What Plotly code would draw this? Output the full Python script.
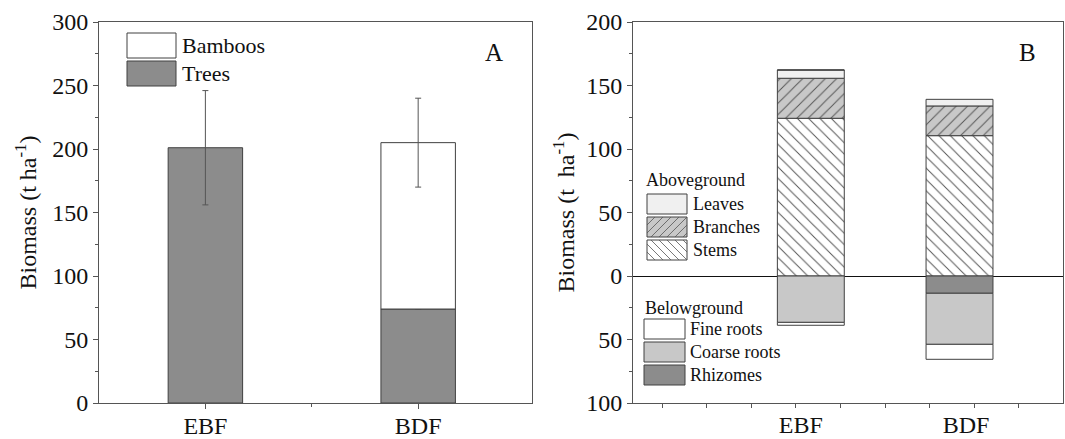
import plotly.graph_objects as go

# ---------------- data ----------------
categories = ["EBF", "BDF"]

# Panel A (t ha-1)
trees = [201, 74]
bamboos = [None, 131]
trees_err = [45, None]
bamboos_err = [None, 35]

# Panel B aboveground (t ha-1)
stems = [124.2, 110.5]
branches = [31.5, 23.4]
leaves = [6.5, 5.2]
# Panel B belowground (t ha-1, plotted downward)
rhizomes = [0, 13.6]
coarse_roots = [36.5, 40.2]
fine_roots = [2.3, 11.8]

yA_ticks = [0, 50, 100, 150, 200, 250, 300]
yB_tickvals = [-100, -50, 0, 50, 100, 150, 200]
yB_ticktext = ["100", "50", "0", "50", "100", "150", "200"]

# ---------------- style ----------------
FONT = "Liberation Serif"
TXT = "#111111"
EDGE = "#404040"
AX = "#555555"
HATCH = "#555555"
W, H = 1065, 439

C_TREES = "#8c8c8c"
C_BAMBOO = "white"
C_STEMS = "white"
C_BRANCH = "#c8c8c8"
C_LEAVES = "#f0f0f0"
C_RHIZ = "#8c8c8c"
C_COARSE = "#c8c8c8"
C_FINE = "white"

idx = list(range(len(categories)))
neg = lambda v: [-x for x in v]


def pat(shape, bg):
    return dict(shape=shape, fgcolor=HATCH, bgcolor=bg, size=8,
                solidity=0.12, fillmode="replace")


fig = go.Figure()

# Panel A
fig.add_trace(go.Bar(
    x=idx, y=trees, name="Trees", width=0.35,
    marker=dict(color=C_TREES, line=dict(color=EDGE, width=1)),
    error_y=dict(type="data", array=trees_err, color="#555555", thickness=1, width=3),
    xaxis="x", yaxis="y"))
fig.add_trace(go.Bar(
    x=idx, y=bamboos, name="Bamboos", width=0.35,
    marker=dict(color=C_BAMBOO, line=dict(color=EDGE, width=1)),
    error_y=dict(type="data", array=bamboos_err, color="#555555", thickness=1, width=3),
    xaxis="x", yaxis="y"))

# Panel B aboveground
fig.add_trace(go.Bar(
    x=idx, y=stems, name="Stems", width=0.45,
    marker=dict(color=C_STEMS, line=dict(color=EDGE, width=1), pattern=pat("\\", C_STEMS)),
    xaxis="x2", yaxis="y2"))
fig.add_trace(go.Bar(
    x=idx, y=branches, name="Branches", width=0.45,
    marker=dict(color=C_BRANCH, line=dict(color=EDGE, width=1), pattern=pat("/", C_BRANCH)),
    xaxis="x2", yaxis="y2"))
fig.add_trace(go.Bar(
    x=idx, y=leaves, name="Leaves", width=0.45,
    marker=dict(color=C_LEAVES, line=dict(color=EDGE, width=1)),
    xaxis="x2", yaxis="y2"))

# Panel B belowground
fig.add_trace(go.Bar(
    x=idx, y=neg(rhizomes), name="Rhizomes", width=0.45,
    marker=dict(color=C_RHIZ, line=dict(color=EDGE, width=1)),
    xaxis="x2", yaxis="y2"))
fig.add_trace(go.Bar(
    x=idx, y=neg(coarse_roots), name="Coarse roots", width=0.45,
    marker=dict(color=C_COARSE, line=dict(color=EDGE, width=1)),
    xaxis="x2", yaxis="y2"))
fig.add_trace(go.Bar(
    x=idx, y=neg(fine_roots), name="Fine roots", width=0.45,
    marker=dict(color=C_FINE, line=dict(color=EDGE, width=1)),
    xaxis="x2", yaxis="y2"))

ydom = [1 - 403 / H, 1 - 22 / H]

common_axis = dict(showline=True, linecolor=AX, linewidth=1, mirror=True,
                   ticks="outside", tickcolor=AX, tickwidth=1,
                   showgrid=False, automargin=False,
                   tickfont=dict(family=FONT, size=24, color=TXT))

# ---------------- legend drawn as boxes + text (pixel layout) ----------------
px = lambda x: x / W
py = lambda y: 1 - y / H
shapes = []
annotations = []


def hatch_path(x0, y0, x1, y1, kind, step=8):
    segs = []
    if kind == "/":  # x + y = c
        c = x0 + y0 + step
        while c < x1 + y1:
            xa, xb = max(x0, c - y1), min(x1, c - y0)
            if xb > xa:
                segs.append(f"M{px(xa):.5f},{py(c - xa):.5f}L{px(xb):.5f},{py(c - xb):.5f}")
            c += step
    else:  # x - y = c
        c = x0 - y1 + step
        while c < x1 - y0:
            xa, xb = max(x0, c + y0), min(x1, c + y1)
            if xb > xa:
                segs.append(f"M{px(xa):.5f},{py(xa - c):.5f}L{px(xb):.5f},{py(xb - c):.5f}")
            c += step
    return "".join(segs)


def label(text, x, y, size, xanchor="left"):
    annotations.append(dict(text=text, x=px(x), y=py(y), xref="paper", yref="paper",
                            xanchor=xanchor, yanchor="middle", showarrow=False,
                            font=dict(family=FONT, size=size, color=TXT)))


def legend_item(x0, y0, x1, y1, fill, text, tx, size, hatch=None):
    shapes.append(dict(type="rect", xref="paper", yref="paper",
                       x0=px(x0), x1=px(x1), y0=py(y1), y1=py(y0),
                       fillcolor=fill, line=dict(color=EDGE, width=1)))
    if hatch:
        shapes.append(dict(type="path", xref="paper", yref="paper",
                           path=hatch_path(x0, y0, x1, y1, hatch),
                           line=dict(color=HATCH, width=0.8)))
    label(text, tx, (y0 + y1) / 2, size)


# Panel A legend
legend_item(127, 33, 176, 58, C_BAMBOO, "Bamboos", 180, 22)
legend_item(127, 61, 176, 86, C_TREES, "Trees", 180, 22)

# Panel B legends
label("Aboveground", 644, 180, 18)
legend_item(647, 194, 687, 214, C_LEAVES, "Leaves", 691, 18)
legend_item(647, 217, 687, 237, C_BRANCH, "Branches", 691, 18, hatch="/")
legend_item(647, 240, 687, 260, C_STEMS, "Stems", 691, 18, hatch="\\")

label("Belowground", 643, 308, 18)
legend_item(644, 319, 685, 339, C_FINE, "Fine roots", 688, 18)
legend_item(644, 342, 685, 362, C_COARSE, "Coarse roots", 688, 18)
legend_item(644, 365, 685, 385, C_RHIZ, "Rhizomes", 688, 18)

# Panel letters
label("A", 494, 53, 25, xanchor="center")
label("B", 1027, 53, 25, xanchor="center")

fig.update_layout(
    width=W, height=H,
    margin=dict(l=0, r=0, t=0, b=0),
    paper_bgcolor="white", plot_bgcolor="white",
    barmode="relative",
    showlegend=False,
    font=dict(family=FONT, color=TXT),
    xaxis=dict(domain=[99 / W, 532 / W], range=[-0.5, 1.535], zeroline=False,
               tickmode="array", tickvals=idx, ticktext=categories, ticklen=5,
               ticklabelstandoff=-4,
               minor=dict(tickmode="array", tickvals=[0.5], ticks="outside",
                          ticklen=3, tickcolor=AX),
               **common_axis),
    yaxis=dict(domain=ydom, range=[0, 300], tickmode="array", tickvals=yA_ticks,
               ticklen=5, zeroline=False,
               minor=dict(dtick=25, tick0=0, ticks="outside", ticklen=3, tickcolor=AX),
               title=dict(text="Biomass (t ha<sup>-1</sup>)",
                          font=dict(family=FONT, size=24, color=TXT),
                          standoff=8),
               **common_axis),
    xaxis2=dict(domain=[633 / W, 1063 / W], range=[-1.196, 1.696], zeroline=False,
                tickmode="array", tickvals=[-0.068, 1.044], ticktext=categories,
                ticklen=0, anchor="y2",
                minor=dict(tickmode="array",
                           tickvals=[-1, -0.7, -0.4, -0.1, 0.2, 0.5, 0.8, 1.1, 1.4],
                           ticks="outside", ticklen=4, tickcolor=AX),
                **common_axis),
    yaxis2=dict(domain=ydom, range=[-100, 200], anchor="x2",
                tickmode="array", tickvals=yB_tickvals, ticktext=yB_ticktext,
                ticklen=5,
                minor=dict(dtick=25, tick0=0, ticks="outside", ticklen=3, tickcolor=AX),
                title=dict(text="Biomass (t\u00a0 ha<sup>-1</sup>)",
                           font=dict(family=FONT, size=24, color=TXT),
                           standoff=4),
                zeroline=True, zerolinecolor="#111111", zerolinewidth=1,
                **common_axis),
    shapes=shapes,
    annotations=annotations,
)

fig.write_html("out.html", config={"displayModeBar": False},
               post_script="document.body.style.margin='0px';")
